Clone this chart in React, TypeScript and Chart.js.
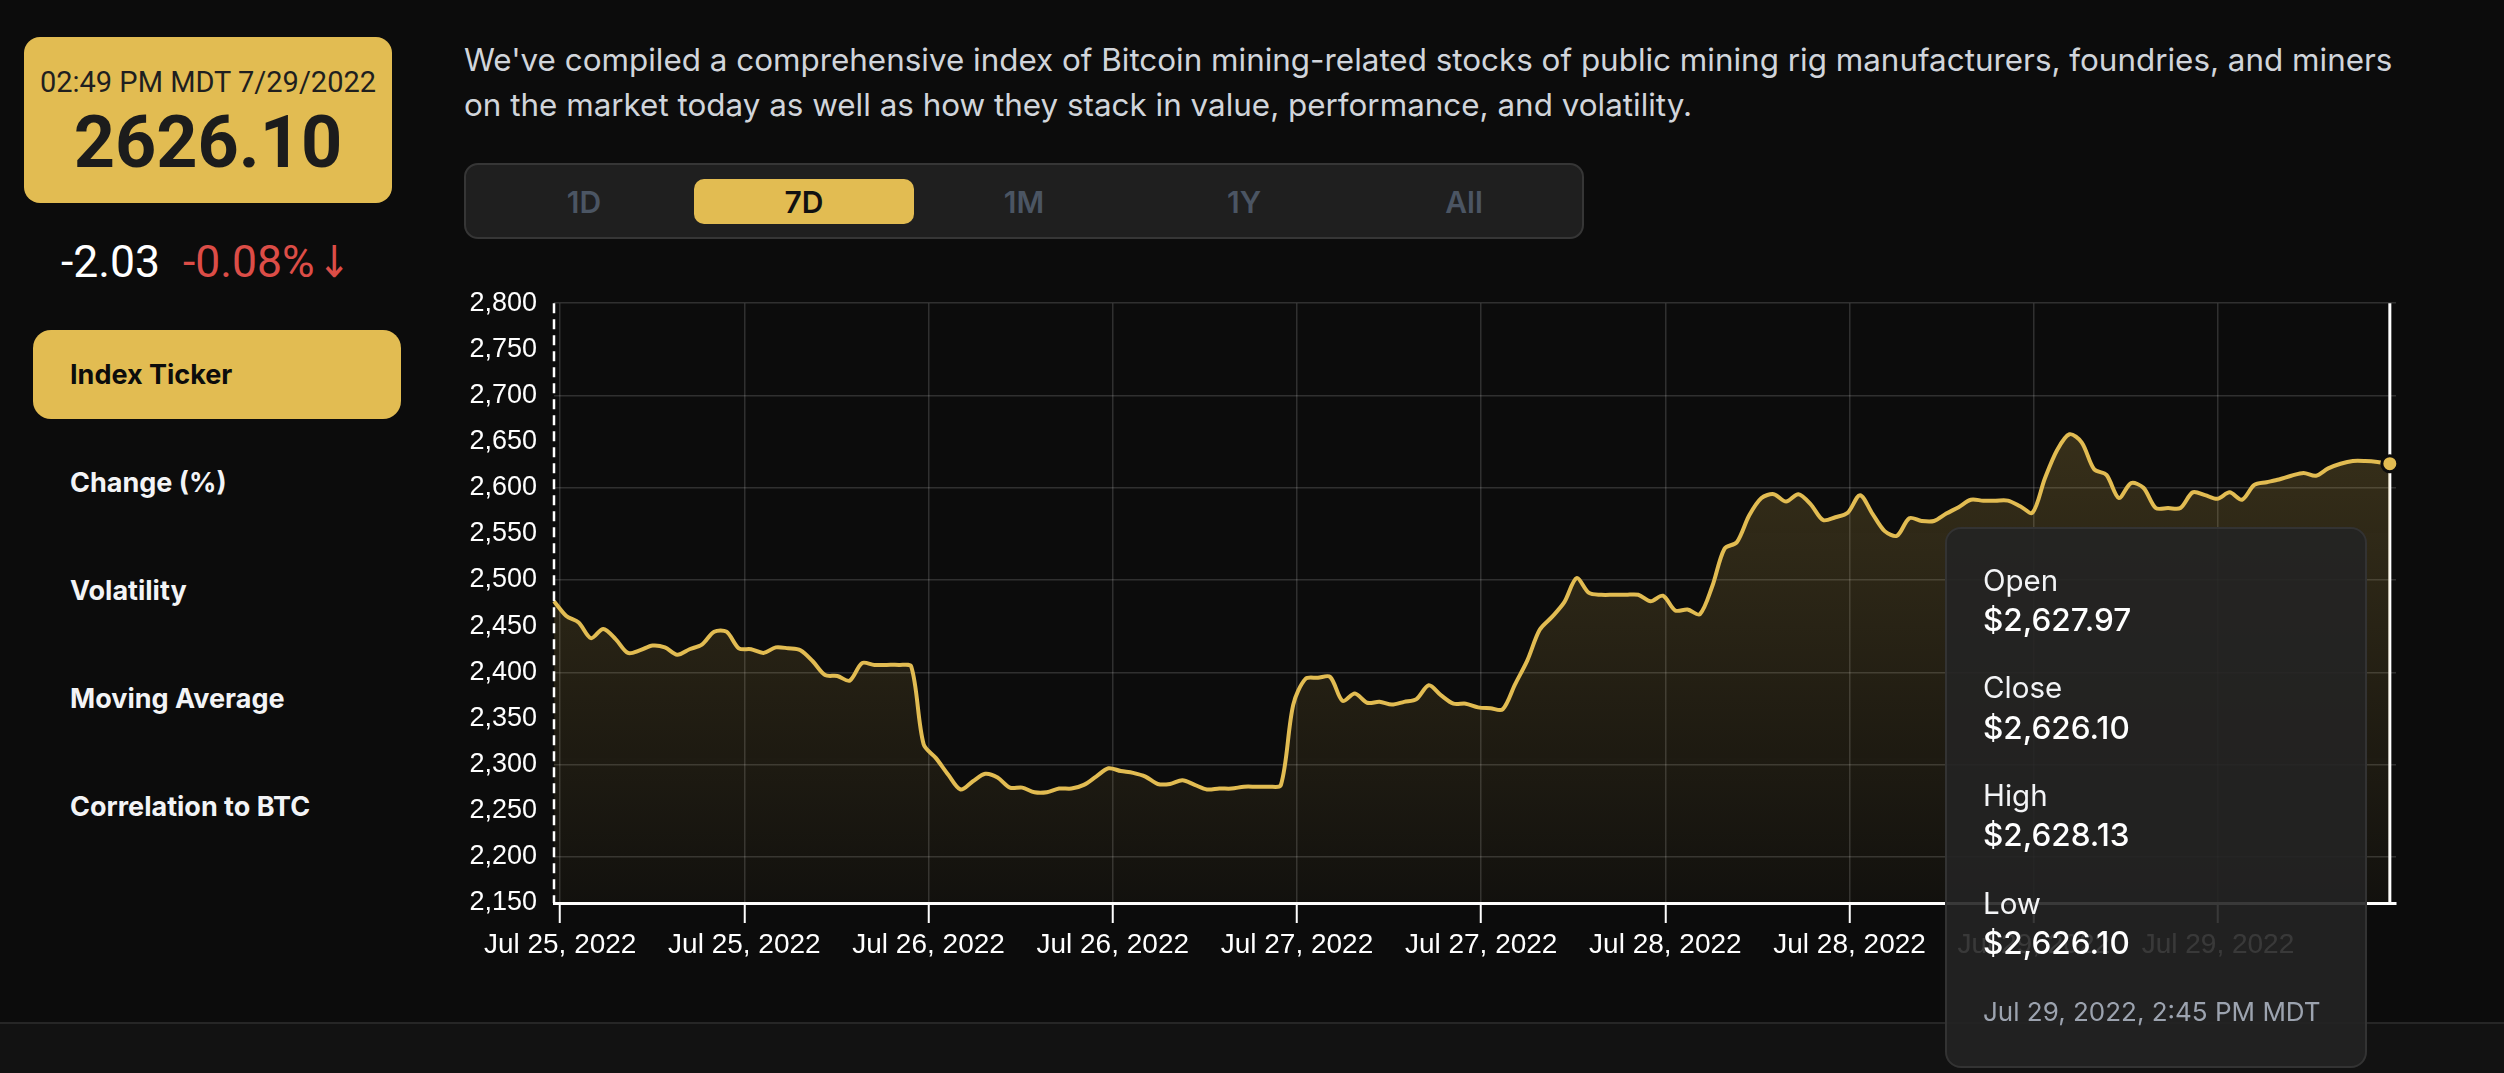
import React, { useEffect, useRef } from "react";
import { Chart, registerables } from "chart.js";

Chart.register(...registerables);

// ---- data (index level, one value per intraday interval) ----
const jul25Values = [
  2477, 2461, 2454, 2437, 2447, 2436, 2421, 2424, 2429, 2427,
  2419, 2425, 2430, 2444, 2444, 2426, 2425, 2421, 2427, 2426,
  2424, 2412, 2397, 2396, 2391, 2410, 2408, 2408, 2408, 2406,
];
const jul26Values = [
  2322, 2307, 2289, 2273, 2282, 2290, 2286, 2275, 2275, 2270,
  2270, 2274, 2274, 2278, 2287, 2296, 2293, 2291, 2287, 2279,
  2279, 2283, 2278, 2273, 2274, 2274, 2276, 2276, 2276, 2278,
];
const jul27Values = [
  2365, 2393, 2394, 2395, 2369, 2377, 2367, 2368, 2365, 2368,
  2371, 2386, 2375, 2366, 2366, 2362, 2361, 2360, 2387, 2413,
  2446, 2460, 2476, 2502, 2486, 2484, 2484, 2484, 2484, 2477,
];
const jul28Values = [
  2483, 2467, 2468, 2463, 2493, 2534, 2541, 2570, 2589, 2593,
  2585, 2593, 2582, 2565, 2568, 2573, 2592, 2572, 2553, 2548,
  2567, 2564, 2564, 2572, 2579, 2587, 2586, 2586, 2586, 2580,
];
const jul29Values = [
  2573, 2610, 2641, 2658, 2649, 2620, 2614, 2589, 2605, 2600,
  2578, 2578, 2578, 2595, 2592, 2588, 2595, 2587, 2603, 2606,
  2609, 2613, 2616, 2613, 2621, 2626, 2629, 2629, 2628, 2626.1,
];
const indexValues = [...jul25Values, ...jul26Values, ...jul27Values, ...jul28Values, ...jul29Values];

const tickLabels = [
  "Jul 25, 2022", "Jul 25, 2022", "Jul 26, 2022", "Jul 26, 2022", "Jul 27, 2022",
  "Jul 27, 2022", "Jul 28, 2022", "Jul 28, 2022", "Jul 29, 2022", "Jul 29, 2022",
];
const pointsPerTick = 14.95;
const firstTickAt = 0.5;
const yMin = 2150;
const yMax = 2800;
const yStep = 50;
const yGridEvery = 100;

const tabs = ["1D", "7D", "1M", "1Y", "All"];
const activeTab = "7D";
const menuItems = ["Index Ticker", "Change (%)", "Volatility", "Moving Average", "Correlation to BTC"];
const activeMenu = "Index Ticker";
const quoteTime = "02:49 PM MDT 7/29/2022";
const quoteValue = "2626.10";
const changeAbs = "-2.03";
const changePct = "-0.08%";
const changeArrow = "\u2193";
const description = [
  "We've compiled a comprehensive index of Bitcoin mining-related stocks of public mining rig manufacturers, foundries, and miners",
  "on the market today as well as how they stack in value, performance, and volatility.",
];
const tooltipRows = [
  ["Open", "$2,627.97"],
  ["Close", "$2,626.10"],
  ["High", "$2,628.13"],
  ["Low", "$2,626.10"],
];
const tooltipFooter = "Jul 29, 2022, 2:45 PM MDT";

// ---- styles ----
const GOLD = "#E2BC52";
const BG = "#0c0c0c";
const INTER = "Inter, 'Noto Sans', sans-serif";
const ROBOTO = "Roboto, sans-serif";
const AXIS_FONT = "'Liberation Sans', Arial, sans-serif";
const ASC: Record<string, number> = { inter: 0.863, roboto: 0.842 };

function Txt(props: {
  x: number; baseline: number; size: number; fam?: string; weight?: number;
  color?: string; width?: number; center?: boolean; children: React.ReactNode;
}) {
  const fam = props.fam || "inter";
  const top = props.baseline - ASC[fam] * props.size;
  return (
    <div
      style={{
        position: "absolute",
        left: props.x,
        top,
        width: props.width,
        textAlign: props.center ? "center" : "left",
        fontSize: props.size,
        lineHeight: `${props.size}px`,
        fontFamily: fam === "inter" ? INTER : ROBOTO,
        fontWeight: props.weight || 400,
        color: props.color || "#fff",
        whiteSpace: "nowrap",
      }}
    >
      {props.children}
    </div>
  );
}

const overlayPlugin = {
  id: "overlay",
  beforeDatasetsDraw(chart: any) {
    const meta = chart.getDatasetMeta(0);
    const pt = meta.data[meta.data.length - 1];
    if (!pt) return;
    const { top, bottom } = chart.chartArea;
    const ctx = chart.ctx;
    ctx.save();
    ctx.strokeStyle = "#ffffff";
    ctx.lineWidth = 3;
    ctx.beginPath();
    ctx.moveTo(pt.x, top);
    ctx.lineTo(pt.x, bottom);
    ctx.stroke();
    ctx.restore();
  },
  afterDraw(chart: any) {
    const { top, bottom, left } = chart.chartArea;
    const ctx = chart.ctx;
    ctx.save();
    ctx.strokeStyle = "#ffffff";
    ctx.lineWidth = 2.5;
    ctx.setLineDash([10, 6]);
    ctx.beginPath();
    ctx.moveTo(left, top);
    ctx.lineTo(left, bottom);
    ctx.stroke();
    ctx.restore();
  },
};

export default function App() {
  const canvasRef = useRef<HTMLCanvasElement>(null);

  useEffect(() => {
    const last = indexValues.length - 1;
    const gridColor = "rgba(255,255,255,0.15)";
    const chart = new Chart(canvasRef.current as HTMLCanvasElement, {
      type: "line",
      data: {
        datasets: [
          {
            data: indexValues.map((v, i) => ({ x: i, y: v })),
            borderColor: GOLD,
            borderWidth: 4,
            tension: 0.3,
            fill: "start",
            backgroundColor: (ctx: any) => {
              const ca = ctx.chart.chartArea;
              if (!ca) return "rgba(226,188,82,0.1)";
              const g = ctx.chart.ctx.createLinearGradient(0, ca.top, 0, ca.bottom);
              g.addColorStop(0, "rgba(226,188,82,0.25)");
              g.addColorStop(1, "rgba(226,188,82,0.03)");
              return g;
            },
            pointRadius: (ctx: any) => (ctx.dataIndex === last ? 8 : 0),
            pointHoverRadius: (ctx: any) => (ctx.dataIndex === last ? 8 : 0),
            pointBackgroundColor: GOLD,
            pointBorderColor: BG,
            pointBorderWidth: 3,
            clip: false,
          } as any,
        ],
      },
      options: {
        animation: false,
        responsive: true,
        maintainAspectRatio: false,
        events: [],
        layout: { padding: { top: 30, right: 24, left: 0, bottom: 0 } },
        plugins: { legend: { display: false }, tooltip: { enabled: false } },
        scales: {
          x: {
            type: "linear",
            min: 0,
            max: last + 0.5,
            afterBuildTicks: (s: any) => {
              s.ticks = tickLabels.map((_, i) => ({ value: firstTickAt + i * pointsPerTick }));
            },
            afterFit: (s: any) => {
              s.height = 67;
            },
            ticks: {
              autoSkip: false,
              maxRotation: 0,
              minRotation: 0,
              color: "#ffffff",
              padding: 5,
              font: { family: AXIS_FONT, size: 28 },
              callback: (_v: any, i: number) => tickLabels[i],
            },
            grid: {
              color: gridColor,
              lineWidth: 1.5,
              tickColor: "#ffffff",
              tickLength: 20,
              tickWidth: 2,
            },
            border: { color: "#ffffff", width: 3 },
          } as any,
          y: {
            min: yMin,
            max: yMax,
            afterFit: (s: any) => {
              s.width = 114;
            },
            ticks: {
              stepSize: yStep,
              color: "#ffffff",
              padding: 17,
              font: { family: AXIS_FONT, size: 27 },
              callback: (v: any) => Number(v).toLocaleString("en-US"),
            },
            grid: {
              color: (ctx: any) =>
                ctx.tick && ctx.tick.value % yGridEvery === 0 ? gridColor : "rgba(0,0,0,0)",
              lineWidth: 1.5,
              drawTicks: false,
            },
            border: { display: false },
          } as any,
        },
      },
      plugins: [overlayPlugin],
    });
    return () => chart.destroy();
  }, []);

  return (
    <div
      style={{
        position: "fixed",
        left: 0,
        top: 0,
        width: 2504,
        height: 1073,
        background: BG,
        overflow: "hidden",
      }}
    >
      {/* quote box */}
      <div
        style={{
          position: "absolute",
          left: 24,
          top: 37,
          width: 368,
          height: 166,
          background: GOLD,
          borderRadius: 16,
        }}
      />
      <Txt x={24} width={368} center baseline={92} size={29} fam="roboto" color="#1f1f1f">
        {quoteTime}
      </Txt>
      <Txt x={24} width={368} center baseline={168} size={72} fam="roboto" weight={700} color="#1c1c1c">
        {quoteValue}
      </Txt>
      <Txt x={61} baseline={277} size={44.5} fam="roboto" color="#ffffff">
        {changeAbs}
      </Txt>
      <Txt x={183} baseline={277} size={44.5} fam="roboto" color="#dc4d47">
        {changePct}
        <span
          style={{
            fontFamily: "'DejaVu Sans', sans-serif",
            fontSize: 44,
            display: "inline-block",
            transform: "scaleX(0.9)",
            marginLeft: 1,
          }}
        >
          {changeArrow}
        </span>
      </Txt>

      {/* menu */}
      <div
        style={{
          position: "absolute",
          left: 33,
          top: 330,
          width: 368,
          height: 89,
          background: GOLD,
          borderRadius: 18,
        }}
      />
      {menuItems.map((m, i) => (
        <Txt
          key={m}
          x={70}
          baseline={384 + i * 108}
          size={27}
          weight={700}
          color={m === activeMenu ? "#0c0c0c" : "#f3f4f6"}
        >
          {m}
        </Txt>
      ))}

      {/* description */}
      {description.map((line, i) => (
        <Txt key={i} x={464} baseline={72 + i * 45} size={31.4} color="#d1d5db">
          {line}
        </Txt>
      ))}

      {/* tabs */}
      <div
        style={{
          position: "absolute",
          left: 464,
          top: 163,
          width: 1120,
          height: 76,
          boxSizing: "border-box",
          background: "#1f1f1f",
          border: "2px solid #363636",
          borderRadius: 14,
          display: "flex",
          alignItems: "center",
          padding: "0 8px",
        }}
      >
        {tabs.map((t) => (
          <div
            key={t}
            style={{
              width: 220,
              height: 45,
              borderRadius: 10,
              background: t === activeTab ? GOLD : "transparent",
              color: t === activeTab ? "#111111" : "#4b5563",
              fontFamily: INTER,
              fontWeight: 600,
              fontSize: 30,
              lineHeight: "47px",
              textAlign: "center",
            }}
          >
            {t}
          </div>
        ))}
      </div>

      {/* chart */}
      <div style={{ position: "absolute", left: 440, top: 270, width: 1980, height: 700 }}>
        <canvas ref={canvasRef} />
      </div>

      {/* bottom bar */}
      <div
        style={{
          position: "absolute",
          left: 0,
          top: 1022,
          width: 2504,
          height: 51,
          background: "#121212",
          borderTop: "2px solid #262626",
        }}
      />

      {/* tooltip */}
      <div
        style={{
          position: "absolute",
          left: 1945,
          top: 527,
          width: 422,
          height: 541,
          boxSizing: "border-box",
          background: "rgba(36,36,36,0.9)",
          border: "2px solid #333333",
          borderRadius: 16,
        }}
      >
        {tooltipRows.map(([label, value], i) => (
          <React.Fragment key={label}>
            <Txt x={36} baseline={62 + i * 107.7} size={29.5} color="#f3f4f6">
              {label}
            </Txt>
            <Txt x={36} baseline={102 + i * 107.7} size={31.5} weight={500} color="#ffffff">
              {value}
            </Txt>
          </React.Fragment>
        ))}
        <Txt x={36} baseline={492} size={26} color="#9ca3af">
          {tooltipFooter}
        </Txt>
      </div>
    </div>
  );
}
